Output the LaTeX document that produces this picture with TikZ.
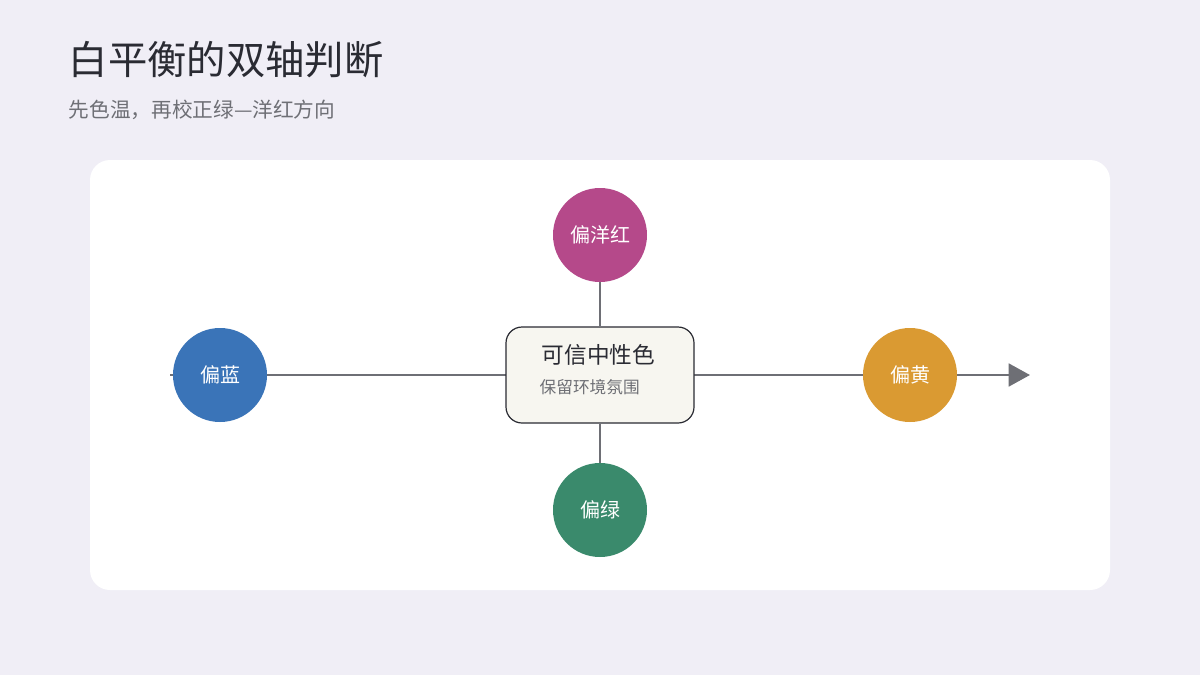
\documentclass[tikz,border=0pt]{standalone}
\usepackage{fontspec}
\newfontfamily\cjk{Noto Sans CJK SC}
\usetikzlibrary{arrows.meta}
\definecolor{bgLav}{HTML}{F0EEF6}
\definecolor{axisGray}{HTML}{6E6F75}
\definecolor{magentaC}{HTML}{B5498A}
\definecolor{blueC}{HTML}{3A74B8}
\definecolor{yellowC}{HTML}{DA9A32}
\definecolor{greenC}{HTML}{3A8A6C}
\definecolor{boxFill}{HTML}{F7F6F0}
\definecolor{titleInk}{HTML}{2A2B33}
\begin{document}
\begin{tikzpicture}[
    x=0.75pt, y=-0.75pt,
    font=\cjk,
    cast/.style={circle, minimum size=70.5pt, inner sep=0pt, text=white, font=\cjk\fontsize{15}{18}\selectfont},
    axis line/.style={draw=axisGray, line width=2.2pt}
    ]
% page and panel
\fill[bgLav] (0,0) rectangle (1200,675);
\useasboundingbox (0,0) rectangle (1200,675);
\fill[white, rounded corners=15pt] (90,160) rectangle (1110,590);
% title
\node[anchor=west, text=titleInk, font=\cjk\fontsize{29.5}{34}\selectfont] (title) at (64,60) {白平衡的双轴判断};
\node[anchor=west, text=axisGray, font=\cjk\fontsize{15.5}{19}\selectfont] (subtitle) at (64,110) {先色温，再校正绿—洋红方向};
% axes
\coordinate (west) at (170,375);
\coordinate (east) at (1030,375);
\draw[axis line, -{Triangle[length=16pt, width=17pt]}] (west) -- (east);
\node[draw=titleInk, fill=boxFill, rounded corners=12pt, line width=0.9pt, minimum width=141pt, minimum height=72pt] (core) at (600,375) {};
\node[cast, fill=magentaC] (magenta) at (600,235) {偏洋红};
\node[cast, fill=greenC] (green) at (600,510) {偏绿};
\draw[axis line] (magenta) -- (core);
\draw[axis line] (core) -- (green);
\node[cast, fill=blueC] (blue) at (220,375) {偏蓝};
\node[cast, fill=yellowC] (yellow) at (910,375) {偏黄};
\node[anchor=west, text=titleInk, font=\cjk\fontsize{17}{20}\selectfont] (coreTitle) at (537,355) {可信中性色};
\node[anchor=west, text=axisGray, font=\cjk\fontsize{12.5}{15}\selectfont] (coreSub) at (535,387) {保留环境氛围};
\end{tikzpicture}
\end{document}
